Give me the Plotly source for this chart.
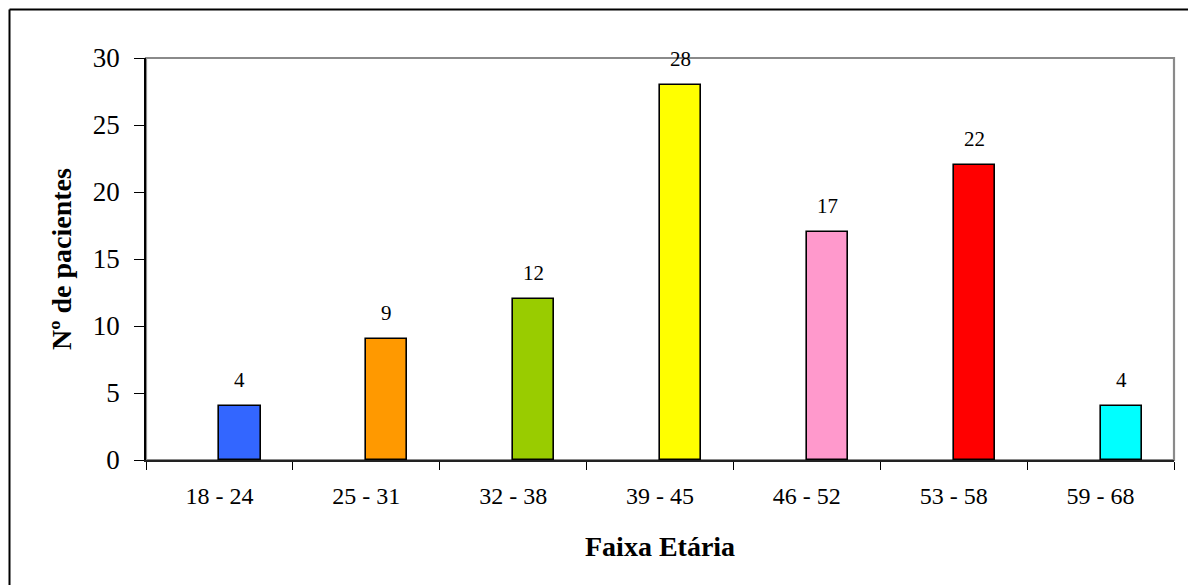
import plotly.graph_objects as go

# Age groups and number of patients in each
faixas = ["18 - 24", "25 - 31", "32 - 38", "39 - 45", "46 - 52", "53 - 58", "59 - 68"]
pacientes = [4, 9, 12, 28, 17, 22, 4]
cores = ["#3366FF", "#FF9900", "#99CC00", "#FFFF00", "#FF99CC", "#FF0000", "#00FFFF"]
y_ticks = [0, 5, 10, 15, 20, 25, 30]

FONT = "Liberation Serif"
W, H = 1188, 585
ML, MR, MT, MB = 146, 14, 58, 125
PW, PH = W - ML - MR, H - MT - MB


def px_x(px):
    return (px - ML) / PW


def px_y(py):
    return (H - MB - py) / PH


fig = go.Figure()
fig.add_trace(go.Bar(
    x=faixas,
    y=pacientes,
    width=0.28,
    offset=0,
    marker=dict(color=cores, line=dict(color="black", width=1.6)),
    hoverinfo="x+y",
    showlegend=False,
))

# value labels above each bar
annotations = []
for f, v in zip(faixas, pacientes):
    annotations.append(dict(
        x=f, y=v, xref="x", yref="y", text=str(v), showarrow=False,
        xshift=20.5, yshift=26, yanchor="middle",
        font=dict(family=FONT, size=21, color="black"),
    ))

# axis titles
annotations.append(dict(
    x=0.5, y=px_y(546), xref="paper", yref="paper", text="<b>Faixa Etária</b>",
    showarrow=False, xanchor="center", yanchor="middle",
    font=dict(family=FONT, size=28, color="black"),
))
annotations.append(dict(
    x=px_x(61), y=0.5, xref="paper", yref="paper", text="<b>Nº de pacientes</b>",
    showarrow=False, xanchor="center", yanchor="middle", textangle=-90,
    font=dict(family=FONT, size=28, color="black"),
))

shapes = [
    # plot area border
    dict(type="rect", xref="paper", yref="paper", x0=0, y0=0, x1=1, y1=1,
         line=dict(color="#8a8a8a", width=2.2), layer="below"),
    # outer chart frame (left and top edges)
    dict(type="line", xref="paper", yref="paper",
         x0=px_x(9.5), y0=px_y(9.5), x1=px_x(1200), y1=px_y(9.5),
         line=dict(color="black", width=2)),
    dict(type="line", xref="paper", yref="paper",
         x0=px_x(9.5), y0=px_y(9.5), x1=px_x(9.5), y1=px_y(600),
         line=dict(color="black", width=2)),
]

fig.update_layout(
    width=W, height=H,
    margin=dict(l=ML, r=MR, t=MT, b=MB, pad=0),
    paper_bgcolor="white", plot_bgcolor="white",
    font=dict(family=FONT, color="black"),
    annotations=annotations,
    shapes=shapes,
    bargap=0,
)
fig.update_xaxes(
    type="category", range=[-0.5, 6.5],
    showline=True, linecolor="#222222", linewidth=2,
    ticks="outside", tickson="boundaries", ticklen=8, tickcolor="black", tickwidth=1.3,
    tickfont=dict(family=FONT, size=24, color="black"),
    ticklabelstandoff=13,
    showgrid=False, zeroline=False,
)
fig.update_yaxes(
    range=[0, 30], tickvals=y_ticks,
    showline=True, linecolor="black", linewidth=1.6,
    ticks="outside", ticklen=10, tickcolor="black", tickwidth=1.3,
    tickfont=dict(family=FONT, size=27, color="black"),
    ticklabelstandoff=9,
    showgrid=False, zeroline=False,
)

fig.write_html("out.html")
